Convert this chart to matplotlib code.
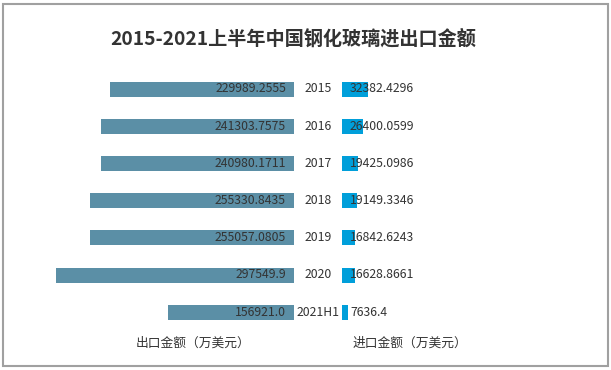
import matplotlib
matplotlib.use("Agg")
import matplotlib.pyplot as plt
from matplotlib.patches import Rectangle

plt.rcParams['font.family'] = ['Noto Sans CJK SC', 'DejaVu Sans']

years = ["2015", "2016", "2017", "2018", "2019", "2020", "2021H1"]
export_vals = [229989.2555, 241303.7575, 240980.1711, 255330.8435, 255057.0805, 297549.9, 156921.0]
import_vals = [32382.4296, 26400.0599, 19425.0986, 19149.3346, 16842.6243, 16628.8661, 7636.4]
export_labels = ["229989.2555", "241303.7575", "240980.1711", "255330.8435", "255057.0805", "297549.9", "156921.0"]
import_labels = ["32382.4296", "26400.0599", "19425.0986", "19149.3346", "16842.6243", "16628.8661", "7636.4"]

title = "2015-2021上半年中国钢化玻璃进出口金额"
left_title = "出口金额（万美元）"
right_title = "进口金额（万美元）"

W, H = 611, 370
fig = plt.figure(figsize=(W / 100, H / 100), dpi=100)
ax = fig.add_axes([0, 0, 1, 1])

scale = 0.0008  # px per unit
cx = 318
gap = 24 / scale
ax.set_xlim(-cx / scale, (W - cx) / scale)
row0, step = 89, 37.2
ax.set_ylim((H - row0) / step, -row0 / step)
ax.axis('off')

ypos = list(range(len(years)))
left_color = "#5B8FA6"
right_color = "#009FDA"
bh = 15 / step

ax.barh(ypos, export_vals, left=[-gap - v for v in export_vals], height=bh, color=left_color)
ax.barh(ypos, import_vals, left=gap, height=bh, color=right_color)

tc = "#333333"
fs = 8.8
for i in ypos:
    ax.text(-gap - 8 / scale, i, export_labels[i], ha='right', va='center', fontsize=fs, color=tc)
    ax.text(0, i, years[i], ha='center', va='center', fontsize=fs, color=tc)
    ax.text(gap + 8 / scale, i, import_labels[i], ha='left', va='center', fontsize=fs, color=tc)

fig.text(193 / W, 1 - 343 / H, left_title, ha='center', va='center', fontsize=9.2, color=tc)
fig.text(410 / W, 1 - 343 / H, right_title, ha='center', va='center', fontsize=9.2, color=tc)
fig.text(293 / W, 1 - 39 / H, title, ha='center', va='center', fontsize=13.8, fontweight='bold', color="#333333")

fig.patches.append(Rectangle((3 / W, 4 / H), (608 - 3) / W, (366 - 4) / H, transform=fig.transFigure,
                             fill=False, edgecolor="#A0A0A0", linewidth=1.5))

fig.savefig("out.png", dpi=100)
